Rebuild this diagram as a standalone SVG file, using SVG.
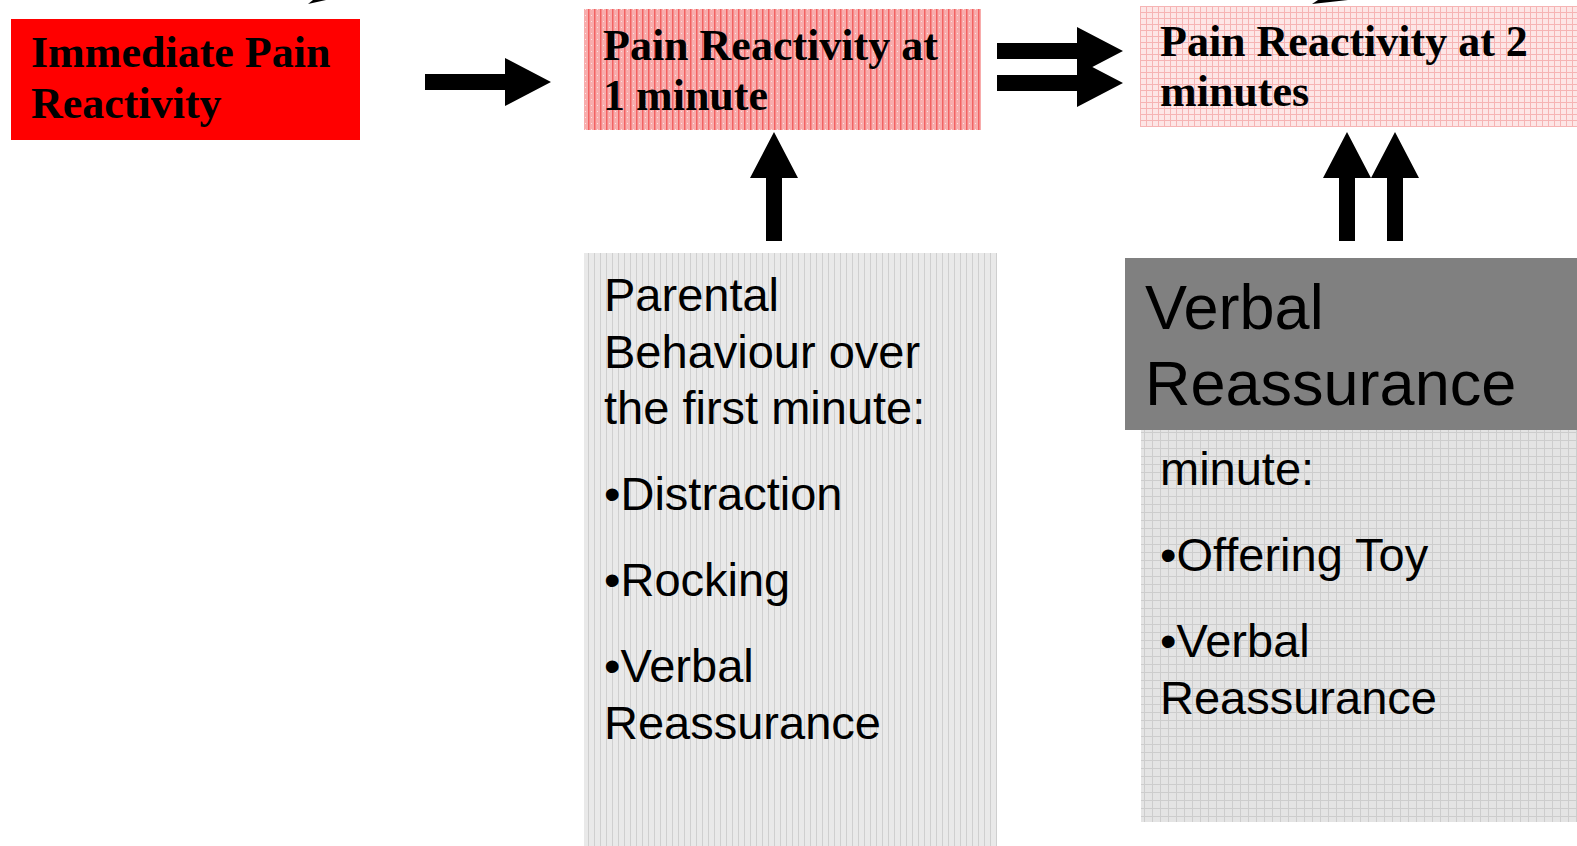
<svg xmlns="http://www.w3.org/2000/svg" width="1577" height="846" viewBox="0 0 1577 846">
<defs>
<pattern id="pinkDense" width="6" height="6" patternUnits="userSpaceOnUse">
<rect width="6" height="6" fill="#f8acac"/>
<rect x="0" y="0" width="1.5" height="6" fill="#f26262"/>
<rect x="3" y="3" width="1" height="1" fill="#fde2e2"/>
</pattern>
<pattern id="pinkLight" width="6" height="6" patternUnits="userSpaceOnUse">
<rect width="6" height="6" fill="#fde6e6"/>
<rect x="0" y="0" width="1" height="6" fill="#f6b4b4"/>
<rect x="0" y="0" width="6" height="1" fill="#f6b4b4"/>
</pattern>
<pattern id="grayV" width="6" height="6" patternUnits="userSpaceOnUse">
<rect width="6" height="6" fill="#e9e9e9"/>
<rect x="0" y="0" width="1" height="6" fill="#cfcfcf"/>
</pattern>
<pattern id="grayGrid" width="8" height="8" patternUnits="userSpaceOnUse">
<rect width="8" height="8" fill="#e4e4e4"/>
<rect x="0" y="0" width="1" height="8" fill="#cdcdcd"/>
<rect x="0" y="0" width="8" height="1" fill="#cdcdcd"/>
</pattern>
</defs>
<style>
.serif{font-family:"Liberation Serif","Times New Roman",serif;font-weight:bold;font-size:44px;fill:#000}
.sans{font-family:"Liberation Sans",Arial,sans-serif;font-size:47px;fill:#000}
.big{font-family:"Liberation Sans",Arial,sans-serif;font-size:63px;fill:#000}
.arrow{fill:#000}
</style>
<rect width="1577" height="846" fill="#fff"/>

<g id="immediate">
<rect x="11" y="19" width="349" height="121" fill="#ff0000"/>
<text class="serif" x="31" y="67">Immediate Pain</text>
<text class="serif" x="31" y="118">Reactivity</text>
</g>

<g id="pain1">
<rect x="584" y="9" width="397" height="121" fill="url(#pinkDense)"/>
<text class="serif" x="603" y="60">Pain Reactivity at</text>
<text class="serif" x="603" y="110">1 minute</text>
</g>

<g id="pain2">
<rect x="1140" y="6" width="437" height="121" fill="url(#pinkLight)"/>
<text class="serif" x="1160" y="56">Pain Reactivity at 2</text>
<text class="serif" x="1160" y="106">minutes</text>
</g>

<g id="parental1">
<rect x="584" y="253" width="413" height="593" fill="url(#grayV)"/>
<text class="sans" x="604" y="311">Parental</text>
<text class="sans" x="604" y="368">Behaviour over</text>
<text class="sans" x="604" y="424">the first minute:</text>
<text class="sans" x="604" y="510">•Distraction</text>
<text class="sans" x="604" y="596">•Rocking</text>
<text class="sans" x="604" y="682">•Verbal</text>
<text class="sans" x="604" y="739">Reassurance</text>
</g>

<g id="parental2">
<rect x="1141" y="258" width="436" height="564" fill="url(#grayGrid)"/>
<text class="sans" x="1160" y="485">minute:</text>
<text class="sans" x="1160" y="571">•Offering Toy</text>
<text class="sans" x="1160" y="657">•Verbal</text>
<text class="sans" x="1160" y="714">Reassurance</text>
</g>

<g id="verbalHeader">
<rect x="1125" y="258" width="452" height="172" fill="#808080"/>
<text class="big" x="1145" y="329">Verbal</text>
<text class="big" x="1145" y="405">Reassurance</text>
</g>

<g id="connectors">
<polygon class="arrow" points="425,74 505,74 505,58 551,82 505,106 505,90 425,90"/>
<polygon class="arrow" points="997,43 1077,43 1077,27 1123,51 1077,75 1077,59 997,59"/>
<polygon class="arrow" points="997,75 1077,75 1077,59 1123,83 1077,107 1077,91 997,91"/>
<polygon class="arrow" points="766,241 766,178 750,178 774,132 798,178 782,178 782,241"/>
<polygon class="arrow" points="1339,241 1339,178 1323,178 1347,132 1371,178 1355,178 1355,241"/>
<polygon class="arrow" points="1387,241 1387,178 1371,178 1395,132 1419,178 1403,178 1403,241"/>
<polygon class="arrow" points="308,4 313,0 326,0"/>
<polygon class="arrow" points="1312,4 1318,0 1348,0"/>
</g>
</svg>
